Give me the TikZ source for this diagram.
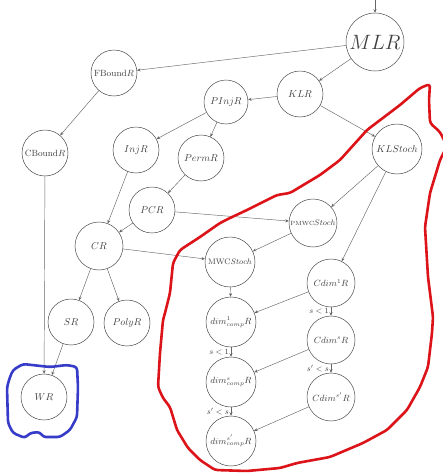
\documentclass[tikz,border=0pt]{standalone}
\usetikzlibrary{arrows.meta}
\begin{document}
\begin{tikzpicture}[x=1pt,y=-1pt,
  nd/.style={circle,draw=black!70,line width=0.5pt,inner sep=0pt,text=black!75,minimum size=46pt},
  ed/.style={draw=black!60,line width=0.45pt,-{Stealth[length=3.5pt,width=3pt]}},
  el/.style={font=\footnotesize,text=black!75,left,inner sep=2pt},
  redline/.style={draw={rgb,255:red,220;green,20;blue,25},line width=2.6pt,line join=round,line cap=round,rounded corners=3pt},
  blueline/.style={draw={rgb,255:red,55;green,60;blue,200},line width=2.6pt,line join=round,line cap=round,rounded corners=3pt}]
\useasboundingbox (0,0) rectangle (443,474);
\fill[white] (0,0) rectangle (443,474);

% nodes
\node[nd,minimum size=58pt,font=\huge] (MLR) at (375,42) {$MLR$};
\node[nd] (KLR) at (300,94) {$KLR$};
\node[nd,minimum size=50pt] (KLS) at (397,149) {$KLStoch$};
\node[nd,font=\small] (FB) at (114,73) {FBound$R$};
\node[nd,font=\small] (CB) at (45,153) {CBound$R$};
\node[nd,minimum size=44pt] (PInj) at (226,102) {$PInjR$};
\node[nd] (Inj) at (136,150) {$InjR$};
\node[nd] (Perm) at (201,158) {$PermR$};
\node[nd] (PCR) at (152,210) {$PCR$};
\node[nd,minimum size=48pt] (CR) at (99,246) {$CR$};
\node[nd] (SR) at (71,322) {$SR$};
\node[nd] (Poly) at (127,323) {$PolyR$};
\node[nd] (WR) at (44,397) {$WR$};
\node[nd,minimum size=48pt,font=\footnotesize] (PMWC) at (313,223) {{\fontsize{6}{7}\selectfont PMWC}$Stoch$};
\node[nd,minimum size=50pt,font=\footnotesize] (MWC) at (230,262) {MWC$Stoch$};
\node[nd,minimum size=48pt,font=\small] (Cd1) at (331,283) {$Cdim^1R$};
\node[nd,minimum size=50pt,font=\small] (d1) at (231,322) {$dim^1_{comp}R$};
\node[nd,minimum size=48pt,font=\small] (Cds) at (331,340) {$Cdim^sR$};
\node[nd,minimum size=50pt,font=\small] (ds) at (231,382) {$dim^s_{comp}R$};
\node[nd,minimum size=48pt,font=\small] (Cdsp) at (331,397) {$Cdim^{s'}R$};
\node[nd,minimum size=50pt,font=\small] (dsp) at (231,441) {$dim^{s'}_{comp}R$};

\coordinate (top) at (375,0);

% edges
\draw[ed] (top) -- (MLR);
\draw[ed] (MLR) -- (FB);
\draw[ed] (MLR) -- (KLR);
\draw[ed] (KLR) -- (PInj);
\draw[ed] (KLR) -- (KLS);
\draw[ed] (FB) -- (CB);
\draw[ed] (PInj) -- (Inj);
\draw[ed] (PInj) -- (Perm);
\draw[ed] (Inj) -- (CR);
\draw[ed] (Perm) -- (PCR);
\draw[ed] (PCR) -- (CR);
\draw[ed] (PCR) -- (PMWC);
\draw[ed] (CR) -- (MWC);
\draw[ed] (CR) -- (SR);
\draw[ed] (CR) -- (Poly);
\draw[ed] (CB) -- (WR);
\draw[ed] (SR) -- (WR);
\draw[ed] (KLS) -- (PMWC);
\draw[ed] (KLS) -- (Cd1);
\draw[ed] (PMWC) -- (MWC);
\draw[ed] (MWC) -- (d1);
\draw[ed] (Cd1) -- (d1);
\draw[ed] (Cd1) -- node[el] {$s<1$} (Cds);
\draw[ed] (d1) -- node[el] {$s<1$} (ds);
\draw[ed] (Cds) -- (ds);
\draw[ed] (Cds) -- node[el] {$s'<s$} (Cdsp);
\draw[ed] (ds) -- node[el] {$s'<s$} (dsp);
\draw[ed] (Cdsp) -- (dsp);

% hand-drawn outlines
\draw[redline] (430,84) -- (429,100) -- (430,123) -- (440,132) -- (447,146) -- (440,160) -- (437,170)
  -- (430,193) -- (425,227) -- (428,277) -- (433,317) -- (432,333) -- (428,367) -- (420,387)
  -- (407,410) -- (387,430) -- (363,443) -- (330,457) -- (297,463) -- (280,468) -- (247,471)
  -- (215,470) -- (200,460) -- (188,448) -- (177,430) -- (170,407) -- (163,398) -- (158,387)
  -- (160,353) -- (163,320) -- (165,313) -- (170,293) -- (173,263) -- (180,250) -- (200,237)
  -- (220,223) -- (230,218) -- (247,210) -- (277,195) -- (290,193) -- (320,175) -- (340,160)
  -- (367,130) -- (400,105) -- (420,88) -- cycle;
\draw[blueline] (13,370) -- (23,364) -- (50,367) -- (67,365) -- (77,367) -- (78,387) -- (77,417)
  -- (70,430) -- (60,437) -- (43,437) -- (40,432) -- (30,433) -- (25,438) -- (13,433) -- (8,423)
  -- (7,387) -- (10,377) -- cycle;
\end{tikzpicture}
\end{document}
